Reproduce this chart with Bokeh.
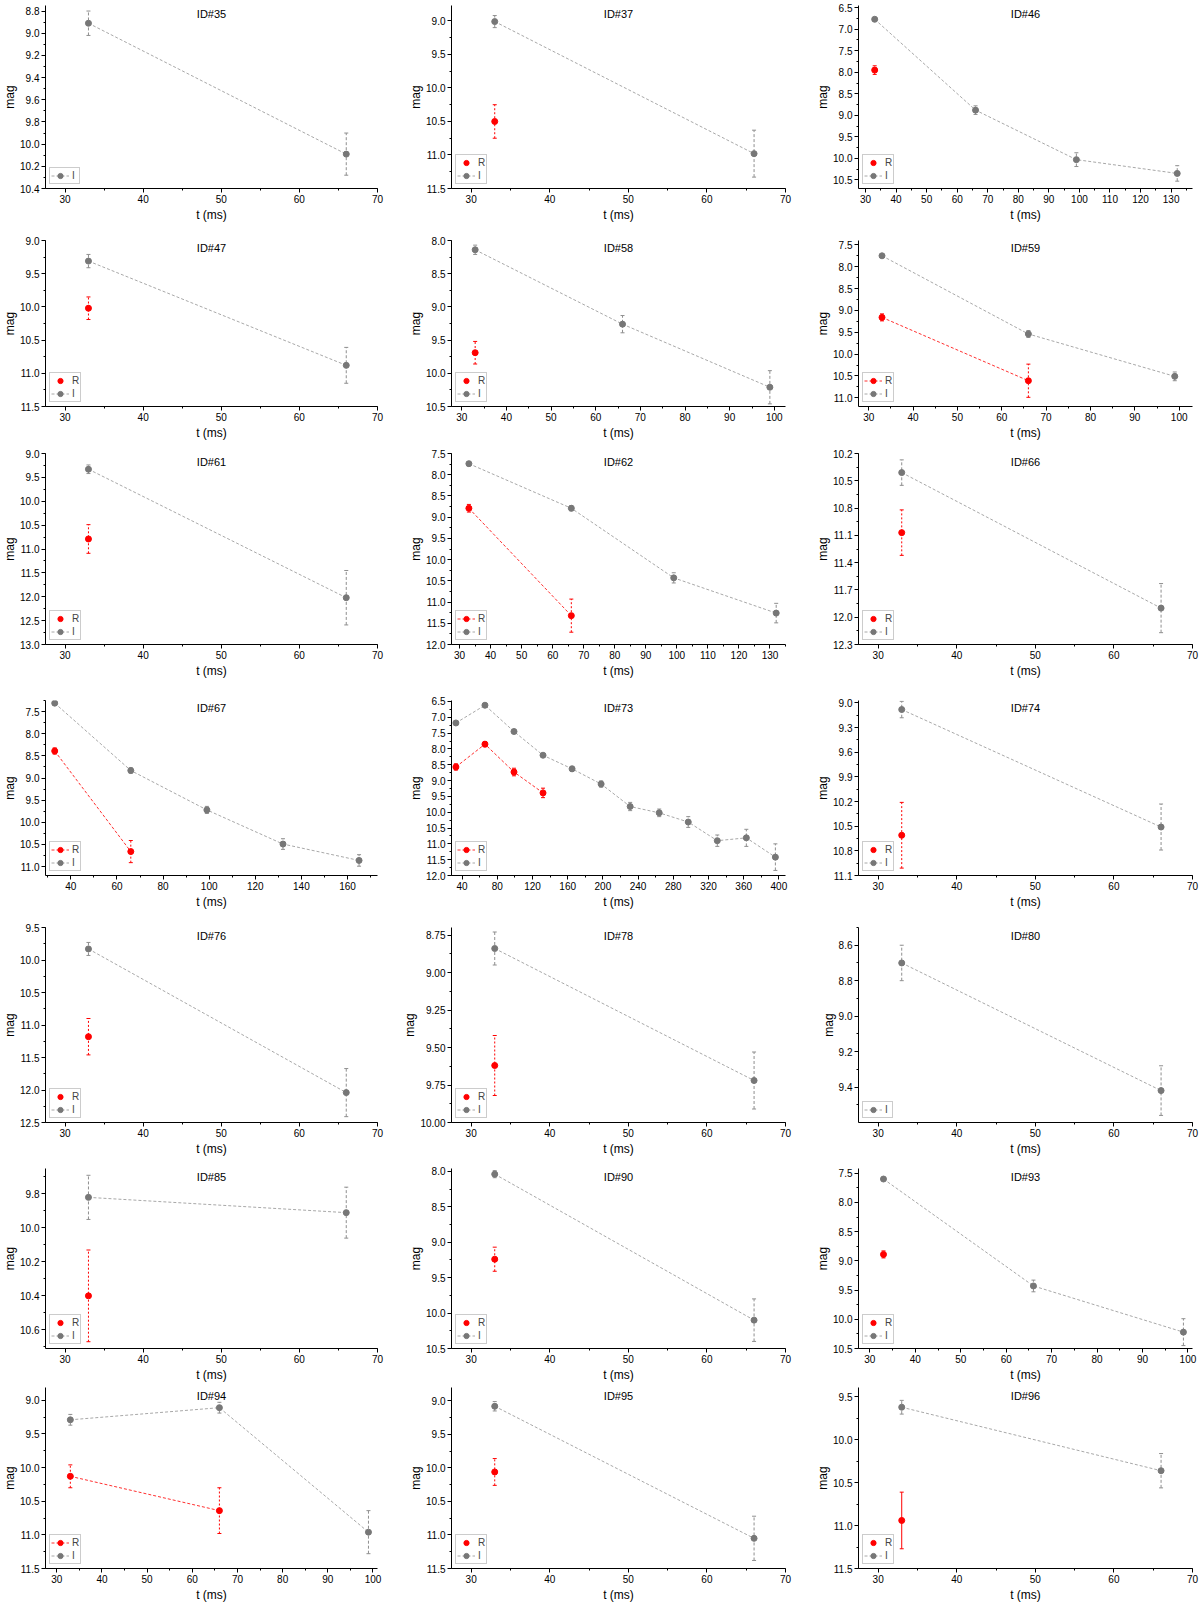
from bokeh.plotting import figure
from bokeh.layouts import gridplot
from bokeh.models import (Range1d, SingleIntervalTicker, NumeralTickFormatter, Whisker,
                          TeeHead, ColumnDataSource, Legend, LegendItem, Label)
from bokeh.embed import file_html
from bokeh.resources import INLINE

# ---------------- data (t in ms, magnitude, error) ----------------
t35_I = [33, 66]; mag35_I = [8.91, 10.09]; err35_I = [0.11, 0.19]
t35_R = []; mag35_R = []; err35_R = []

t37_I = [33, 66]; mag37_I = [9.01, 10.98]; err37_I = [0.09, 0.35]
t37_R = [33]; mag37_R = [10.5]; err37_R = [0.25]

t46_I = [33, 66, 99, 132]; mag46_I = [6.77, 8.88, 10.03, 10.35]; err46_I = [0.04, 0.1, 0.16, 0.18]
t46_R = [33]; mag46_R = [7.95]; err46_R = [0.1]

t47_I = [33, 66]; mag47_I = [9.31, 10.88]; err47_I = [0.1, 0.27]
t47_R = [33]; mag47_R = [10.02]; err47_R = [0.17]

t58_I = [33, 66, 99]; mag58_I = [8.14, 9.26, 10.21]; err58_I = [0.07, 0.13, 0.25]
t58_R = [33]; mag58_R = [9.69]; err58_R = [0.17]

t59_I = [33, 66, 99]; mag59_I = [7.75, 9.54, 10.51]; err59_I = [0.03, 0.08, 0.1]
t59_R = [33, 66]; mag59_R = [9.16, 10.61]; err59_R = [0.08, 0.38]

t61_I = [33, 66]; mag61_I = [9.33, 12.02]; err61_I = [0.09, 0.57]
t61_R = [33]; mag61_R = [10.79]; err61_R = [0.3]

t62_I = [33, 66, 99, 132]; mag62_I = [7.74, 8.79, 10.43, 11.26]; err62_I = [0.05, 0.06, 0.12, 0.23]
t62_R = [33, 66]; mag62_R = [8.79, 11.32]; err62_R = [0.09, 0.39]

t66_I = [33, 66]; mag66_I = [10.41, 11.9]; err66_I = [0.14, 0.27]
t66_R = [33]; mag66_R = [11.07]; err66_R = [0.25]

t67_I = [33, 66, 99, 132, 165]; mag67_I = [7.31, 8.83, 9.72, 10.49, 10.86]; err67_I = [0.04, 0.06, 0.08, 0.12, 0.13]
t67_R = [33, 66]; mag67_R = [8.39, 10.66]; err67_R = [0.07, 0.25]

t73_I = [33, 66, 99, 132, 165, 198, 231, 264, 297, 330, 363, 396]
mag73_I = [7.18, 6.62, 7.45, 8.2, 8.63, 9.11, 9.82, 10.02, 10.31, 10.9, 10.81, 11.42]
err73_I = [0.03, 0.03, 0.04, 0.05, 0.08, 0.1, 0.13, 0.12, 0.17, 0.18, 0.27, 0.42]
t73_R = [33, 66, 99, 132]; mag73_R = [8.57, 7.85, 8.73, 9.39]; err73_R = [0.1, 0.08, 0.12, 0.15]

t74_I = [33, 66]; mag74_I = [9.08, 10.51]; err74_I = [0.1, 0.28]
t74_R = [33]; mag74_R = [10.61]; err74_R = [0.4]

t76_I = [33, 66]; mag76_I = [9.83, 12.04]; err76_I = [0.1, 0.37]
t76_R = [33]; mag76_R = [11.18]; err76_R = [0.28]

t78_I = [33, 66]; mag78_I = [8.84, 9.72]; err78_I = [0.11, 0.19]
t78_R = [33]; mag78_R = [9.62]; err78_R = [0.2]

t80_I = [33, 66]; mag80_I = [8.70, 9.42]; err80_I = [0.1, 0.14]
t80_R = []; mag80_R = []; err80_R = []

t85_I = [33, 66]; mag85_I = [9.82, 9.91]; err85_I = [0.13, 0.15]
t85_R = [33]; mag85_R = [10.40]; err85_R = [0.27]

t90_I = [33, 66]; mag90_I = [8.04, 10.1]; err90_I = [0.05, 0.3]
t90_R = [33]; mag90_R = [9.24]; err90_R = [0.17]

t93_I = [33, 66, 99]; mag93_I = [7.6, 9.43, 10.22]; err93_I = [0.02, 0.1, 0.23]
t93_R = [33]; mag93_R = [8.89]; err93_R = [0.06]

t94_I = [33, 66, 99]; mag94_I = [9.29, 9.11, 10.96]; err94_I = [0.08, 0.08, 0.32]
t94_R = [33, 66]; mag94_R = [10.13, 10.64]; err94_R = [0.17, 0.34]

t95_I = [33, 66]; mag95_I = [9.08, 11.05]; err95_I = [0.07, 0.33]
t95_R = [33]; mag95_R = [10.06]; err95_R = [0.2]

t96_I = [33, 66]; mag96_I = [9.62, 10.36]; err96_I = [0.08, 0.2]
t96_R = [33]; mag96_R = [10.94]; err96_R = [0.33]

panel_ids = ["ID#35", "ID#37", "ID#46", "ID#47", "ID#58", "ID#59", "ID#61", "ID#62", "ID#66",
             "ID#67", "ID#73", "ID#74", "ID#76", "ID#78", "ID#80", "ID#85", "ID#90", "ID#93",
             "ID#94", "ID#95", "ID#96"]

series = [
    (t35_I, mag35_I, err35_I, t35_R, mag35_R, err35_R),
    (t37_I, mag37_I, err37_I, t37_R, mag37_R, err37_R),
    (t46_I, mag46_I, err46_I, t46_R, mag46_R, err46_R),
    (t47_I, mag47_I, err47_I, t47_R, mag47_R, err47_R),
    (t58_I, mag58_I, err58_I, t58_R, mag58_R, err58_R),
    (t59_I, mag59_I, err59_I, t59_R, mag59_R, err59_R),
    (t61_I, mag61_I, err61_I, t61_R, mag61_R, err61_R),
    (t62_I, mag62_I, err62_I, t62_R, mag62_R, err62_R),
    (t66_I, mag66_I, err66_I, t66_R, mag66_R, err66_R),
    (t67_I, mag67_I, err67_I, t67_R, mag67_R, err67_R),
    (t73_I, mag73_I, err73_I, t73_R, mag73_R, err73_R),
    (t74_I, mag74_I, err74_I, t74_R, mag74_R, err74_R),
    (t76_I, mag76_I, err76_I, t76_R, mag76_R, err76_R),
    (t78_I, mag78_I, err78_I, t78_R, mag78_R, err78_R),
    (t80_I, mag80_I, err80_I, t80_R, mag80_R, err80_R),
    (t85_I, mag85_I, err85_I, t85_R, mag85_R, err85_R),
    (t90_I, mag90_I, err90_I, t90_R, mag90_R, err90_R),
    (t93_I, mag93_I, err93_I, t93_R, mag93_R, err93_R),
    (t94_I, mag94_I, err94_I, t94_R, mag94_R, err94_R),
    (t95_I, mag95_I, err95_I, t95_R, mag95_R, err95_R),
    (t96_I, mag96_I, err96_I, t96_R, mag96_R, err96_R),
]

# axis setup per panel: x start, x end, x tick step, y top, y bottom, y tick step, y label format
axes_cfg = [
    (27.5, 70, 10, 8.75, 10.4, 0.2, "0.0"),
    (27.5, 70, 10, 8.77, 11.5, 0.5, "0.0"),
    (27.7, 137, 10, 6.45, 10.7, 0.5, "0.0"),
    (27.5, 70, 10, 9.0, 11.5, 0.5, "0.0"),
    (27.7, 102.5, 10, 8.0, 10.5, 0.5, "0.0"),
    (27.7, 103, 10, 7.4, 11.2, 0.5, "0.0"),
    (27.5, 70, 10, 9.0, 13.0, 0.5, "0.0"),
    (27.4, 135, 10, 7.5, 12.0, 0.5, "0.0"),
    (27.5, 70, 10, 10.2, 12.3, 0.3, "0.0"),
    (29, 173, 20, 7.25, 11.2, 0.5, "0.0"),
    (28, 407.5, 40, 6.47, 12.0, 0.5, "0.0"),
    (27.5, 70, 10, 8.97, 11.1, 0.3, "0.0"),
    (27.5, 70, 10, 9.5, 12.5, 0.5, "0.0"),
    (27.5, 70, 10, 8.7, 10.0, 0.25, "0.00"),
    (27.5, 70, 10, 8.5, 9.6, 0.2, "0.0"),
    (27.5, 70, 10, 9.65, 10.71, 0.2, "0.0"),
    (27.5, 70, 10, 7.96, 10.5, 0.5, "0.0"),
    (27.5, 101, 10, 7.42, 10.5, 0.5, "0.0"),
    (27.5, 101, 10, 8.81, 11.5, 0.5, "0.0"),
    (27.5, 70, 10, 8.8, 11.5, 0.5, "0.0"),
    (27.5, 70, 10, 9.39, 11.5, 0.5, "0.0"),
]

# ---------------- layout / style ----------------
FONT = "Liberation Sans"
COL_W = [400, 400, 400]
COL_BL = [43, 49, 58]
COL_BR = [23, 15, 8]
ROW_H = [224, 218, 238, 231, 247, 226, 220]
ROW_BT = [5, 16, 11, 20, 16, 10, 3]
BB = 36

I_MARK = "#777777"
I_LINE = "#a8a8a8"
I_ERR = "#8f8f8f"
R_MARK = "#ff0000"
R_LINE = "#ff3030"


def add_series(p, t, m, e, mark_col, line_col, err_col, err_dash):
    src = ColumnDataSource(dict(t=t, m=m,
                                up=[a - b for a, b in zip(m, e)],
                                lo=[a + b for a, b in zip(m, e)]))
    rs = []
    if len(t) > 1:
        rs.append(p.line("t", "m", source=src, line_color=line_col, line_width=1,
                         line_dash="3 2"))
    w = Whisker(source=src, base="t", upper="up", lower="lo", dimension="height",
                line_color=err_col, line_width=1, line_dash=err_dash,
                upper_head=TeeHead(size=4, line_color=err_col, line_width=1),
                lower_head=TeeHead(size=4, line_color=err_col, line_width=1))
    p.add_layout(w)
    rs.append(p.scatter("t", "m", source=src, size=6, marker="circle",
                        fill_color=mark_col, line_color=mark_col))
    return rs


def make_panel(k):
    r, c = divmod(k, 3)
    x0, x1, xs, ytop, ybot, ys, fmt = axes_cfg[k]
    tI, mI, eI, tR, mR, eR = series[k]
    p = figure(width=COL_W[c], height=ROW_H[r],
               x_range=Range1d(x0, x1), y_range=Range1d(ybot, ytop),
               output_backend="svg", toolbar_location=None,
               min_border_left=COL_BL[c], min_border_right=COL_BR[c],
               min_border_top=ROW_BT[r], min_border_bottom=BB)
    p.outline_line_color = None
    p.xgrid.visible = False
    p.ygrid.visible = False
    p.background_fill_color = "white"

    p.xaxis.ticker = SingleIntervalTicker(interval=xs, num_minor_ticks=2)
    p.yaxis.ticker = SingleIntervalTicker(interval=ys, num_minor_ticks=2)
    p.xaxis.formatter = NumeralTickFormatter(format="0")
    p.yaxis.formatter = NumeralTickFormatter(format=fmt)
    p.xaxis.axis_label = "t (ms)"
    p.yaxis.axis_label = "mag"
    for ax in (p.xaxis, p.yaxis):
        ax.axis_line_color = "black"
        ax.axis_line_width = 1
        ax.major_tick_line_color = "black"
        ax.minor_tick_line_color = "black"
        ax.major_tick_out = 4
        ax.major_tick_in = 0
        ax.minor_tick_out = 2
        ax.minor_tick_in = 0
        ax.major_label_text_font = FONT
        ax.major_label_text_font_size = "10px"
        ax.major_label_text_color = "black"
        ax.major_label_standoff = 2
        ax.axis_label_text_font = FONT
        ax.axis_label_text_font_size = "12px"
        ax.axis_label_text_font_style = "normal"
        ax.axis_label_text_color = "black"
    p.xaxis.axis_label_standoff = 2
    p.yaxis.axis_label_standoff = 0

    items = []
    if tR:
        rr = add_series(p, tR, mR, eR, R_MARK, R_LINE, R_MARK,
                        "solid" if panel_ids[k] == "ID#96" else "2 2")
        items.append(LegendItem(label="R", renderers=rr))
    ri = add_series(p, tI, mI, eI, I_MARK, I_LINE, I_ERR, "3 2")
    items.append(LegendItem(label="I", renderers=ri))

    leg = Legend(items=items, location="bottom_left", margin=4, padding=1, spacing=0,
                 label_text_font=FONT, label_text_font_size="10px",
                 label_height=13, label_width=6, glyph_height=13, glyph_width=18,
                 label_standoff=3,
                 border_line_color="#9a9a9a", border_line_width=1,
                 background_fill_color="white", background_fill_alpha=1)
    p.add_layout(leg)

    p.add_layout(Label(x=(x0 + x1) / 2, y=ytop + 0.045 * (ybot - ytop), text=panel_ids[k],
                       text_align="center", text_baseline="middle",
                       text_font=FONT, text_font_size="11px", text_color="black"))
    return p


figs = [make_panel(k) for k in range(21)]
grid = gridplot([figs[i:i + 3] for i in range(0, 21, 3)], toolbar_location=None)

open("out.html", "w").write(file_html(grid, INLINE))
